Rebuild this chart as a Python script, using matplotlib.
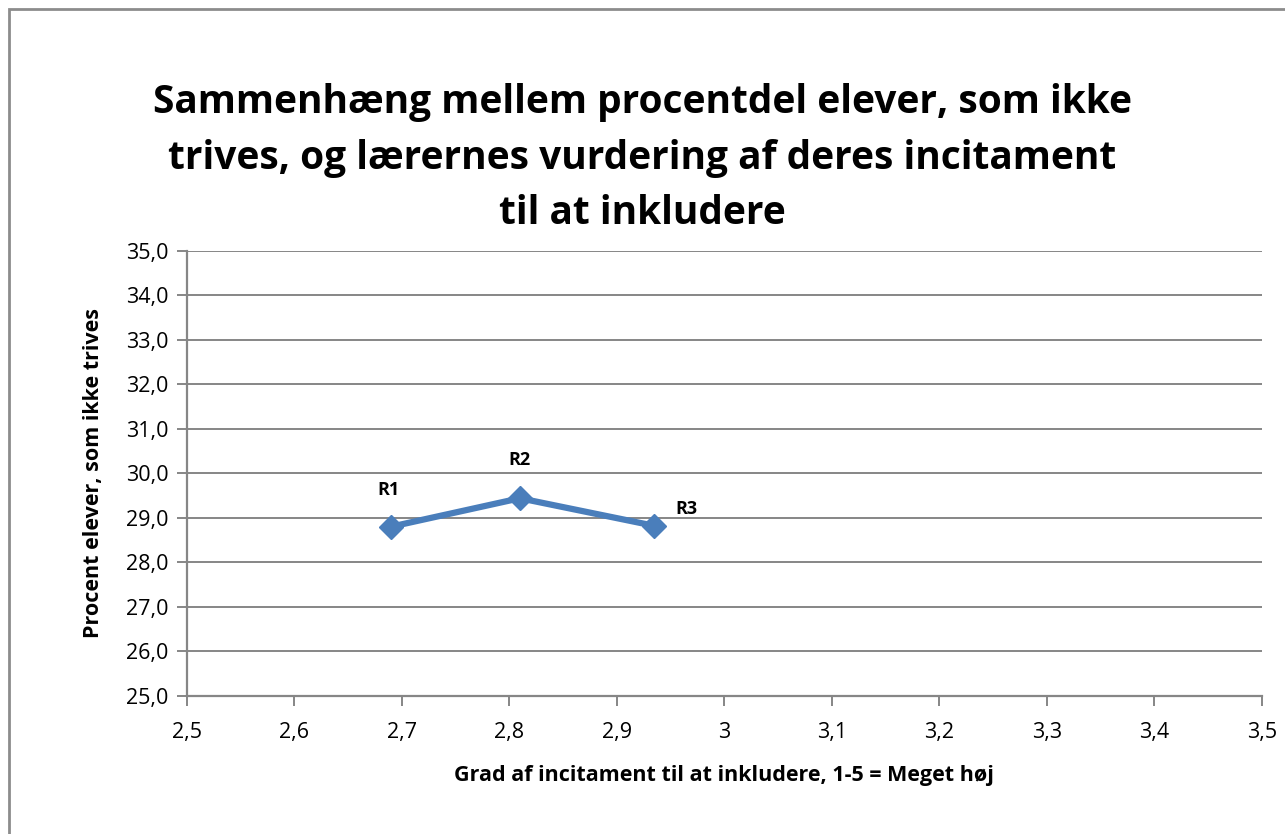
import matplotlib.pyplot as plt
from matplotlib.patches import Rectangle
from matplotlib.ticker import MultipleLocator, FuncFormatter

plt.rcParams['font.family'] = ['Open Sans', 'DejaVu Sans']

# gennemsnitlig vurdering og procent elever der ikke trives
labels = ['R1', 'R2', 'R3']
incitament = [2.69, 2.81, 2.935]
ikke_trives = [28.80, 29.44, 28.82]

fig = plt.figure(figsize=(12.85, 8.34), dpi=100)
ax = fig.add_axes([186.7 / 1285, 1 - 695.7 / 834, (1261.7 - 186.7) / 1285, (695.7 - 251) / 834])

# ramme rundt om hele diagrammet
fig.patches.append(Rectangle((9 / 1285, -0.05), 1.1, (834 - 9) / 834 + 0.05,
                             transform=fig.transFigure, fill=False,
                             edgecolor='#8c8c8c', linewidth=2))

grid_col = '#868686'
ax.plot(incitament, ikke_trives, color='#4a7ebb', linewidth=4.5, marker='D',
        markersize=12, zorder=3)

offsets = [(-2, 20), (0, 21), (23, 12)]
for lab, x, y, off in zip(labels, incitament, ikke_trives, offsets):
    ax.annotate(lab, (x, y), xytext=off, textcoords='offset points',
                ha='center', va='bottom' if off[0] <= 0 else 'center',
                fontsize=13, fontweight='bold')

ax.set_xlim(2.5, 3.5)
ax.set_ylim(25, 35)
ax.xaxis.set_major_locator(MultipleLocator(0.1))
ax.yaxis.set_major_locator(MultipleLocator(1))

def komma_x(v, pos):
    s = f'{v:.1f}'.replace('.', ',')
    return '3' if s == '3,0' else s

ax.xaxis.set_major_formatter(FuncFormatter(komma_x))
ax.yaxis.set_major_formatter(FuncFormatter(lambda v, p: f'{v:.1f}'.replace('.', ',')))

ax.grid(True, axis='y', color=grid_col, linewidth=1.4)
ax.set_axisbelow(True)
for side in ['top', 'right']:
    ax.spines[side].set_visible(False)
for side in ['left', 'bottom']:
    ax.spines[side].set_color(grid_col)
    ax.spines[side].set_linewidth(1.6)
ax.tick_params(colors=grid_col, labelcolor='black', labelsize=15.5, length=7, width=1.4)
ax.tick_params(axis='x', pad=12)
ax.tick_params(axis='y', pad=6)

ax.set_xlabel('Grad af incitament til at inkludere, 1-5 = Meget høj',
              fontsize=15.5, fontweight='bold', labelpad=16)
ax.set_ylabel('Procent elever, som ikke trives', fontsize=15.5, fontweight='bold', labelpad=16)

fig.text(0.5, 1 - 158 / 834,
         'Sammenhæng mellem procentdel elever, som ikke\n'
         'trives, og lærernes vurdering af deres incitament\n'
         'til at inkludere',
         ha='center', va='center', fontsize=28, fontweight='bold', linespacing=1.55)

fig.savefig('out.png', dpi=100)
